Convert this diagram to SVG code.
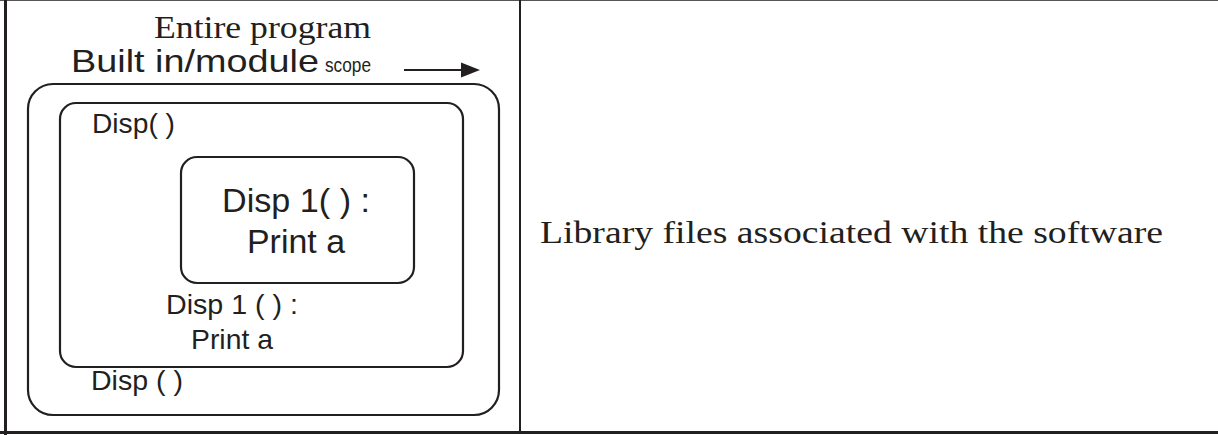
<svg xmlns="http://www.w3.org/2000/svg" width="1218" height="435" viewBox="0 0 1218 435">
<style>
.box{fill:none;stroke:#231f20;stroke-width:2.2}
.sans{font-family:"Liberation Sans",Arial,sans-serif;fill:#231f20}
.serif{font-family:"Liberation Serif","Times New Roman",serif;fill:#231f20}
</style>
<rect width="1218" height="435" fill="#ffffff"/>
<g id="frame">
<line x1="0" y1="0.5" x2="1218" y2="0.5" stroke="#555" stroke-width="1"/>
<line x1="5.5" y1="0" x2="5.5" y2="435" stroke="#231f20" stroke-width="3"/>
<line x1="520" y1="0" x2="520" y2="432" stroke="#231f20" stroke-width="2"/>
<line x1="0" y1="432.5" x2="1218" y2="432.5" stroke="#231f20" stroke-width="3"/>
</g>
<g id="title">
<text class="serif" x="154" y="38" font-size="32" textLength="217" lengthAdjust="spacingAndGlyphs">Entire program</text>
<text class="sans" x="71" y="72" font-size="32" textLength="248" lengthAdjust="spacingAndGlyphs">Built in/module</text>
<text class="sans" x="325" y="72" font-size="21" textLength="46" lengthAdjust="spacingAndGlyphs">scope</text>
</g>
<g id="connectors">
<line x1="404" y1="70" x2="464" y2="70" stroke="#231f20" stroke-width="2.2"/>
<polygon points="461,62.5 480,70 461,77.5" fill="#231f20"/>
</g>
<g id="builtin-scope">
<rect class="box" x="28" y="84" width="471" height="331" rx="25"/>
<text class="sans" x="91" y="390" font-size="28" textLength="92" lengthAdjust="spacingAndGlyphs">Disp ( )</text>
</g>
<g id="disp-scope">
<rect class="box" x="60" y="103" width="403" height="264" rx="16"/>
<text class="sans" x="92" y="133" font-size="28" textLength="83" lengthAdjust="spacingAndGlyphs">Disp( )</text>
<text class="sans" x="166" y="314" font-size="28" textLength="132" lengthAdjust="spacingAndGlyphs">Disp 1 ( ) :</text>
<text class="sans" x="191" y="349" font-size="28" textLength="82" lengthAdjust="spacingAndGlyphs">Print a</text>
</g>
<g id="disp1-scope">
<rect class="box" x="181" y="157" width="233" height="126" rx="16"/>
<text class="sans" x="222" y="212" font-size="34" textLength="148" lengthAdjust="spacingAndGlyphs">Disp 1( ) :</text>
<text class="sans" x="247" y="253" font-size="34" textLength="98" lengthAdjust="spacingAndGlyphs">Print a</text>
</g>
<g id="library">
<text class="serif" x="540" y="243" font-size="32" textLength="623" lengthAdjust="spacingAndGlyphs">Library files associated with the software</text>
</g>
</svg>
